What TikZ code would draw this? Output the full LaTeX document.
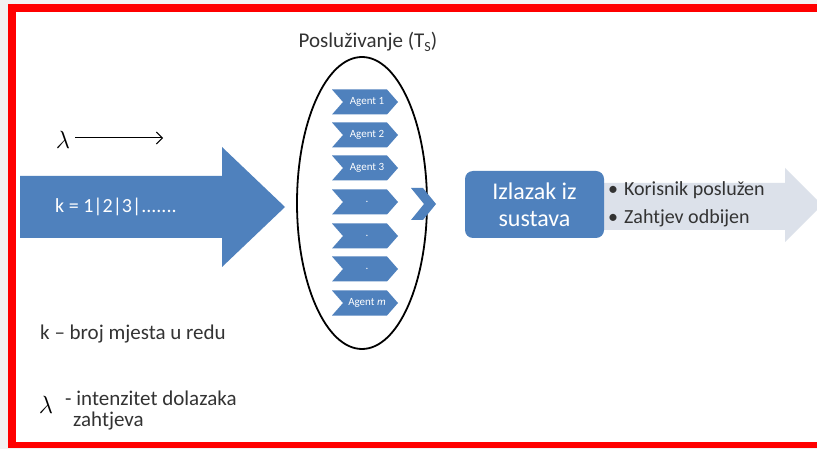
\documentclass[tikz,border=0pt]{standalone}
\usepackage{fontspec}
\setmainfont{Carlito}
\usetikzlibrary{shapes.geometric,arrows.meta}
\definecolor{officeblue}{HTML}{4F81BD}
\definecolor{paleblue}{HTML}{DCE1EA}
\definecolor{textgray}{HTML}{333333}
\definecolor{framered}{HTML}{FF0000}
% chevron centred at (#1,#2): width #3, height #4, notch/point depth #5
\newcommand\agentchevron[5]{%
  \fill[officeblue] (#1-#3/2,#2+#4/2) -- (#1+#3/2-#5,#2+#4/2) -- (#1+#3/2,#2)
    -- (#1+#3/2-#5,#2-#4/2) -- (#1-#3/2,#2-#4/2) -- (#1-#3/2+#5,#2) -- cycle;}
\tikzset{
  agentlabel/.style={text=white,font=\fontsize{11}{12}\selectfont,inner sep=0pt},
  bodytext/.style={text=textgray,font=\fontsize{21}{24}\selectfont,inner sep=0pt,anchor=west},
  lambdasym/.style={font=\fontsize{28}{29}\selectfont,inner sep=0pt},
}
\begin{document}
\begin{tikzpicture}[x=1pt,y=-1pt]
\useasboundingbox (0,0) rectangle (817,449);
% page backdrop and frame
\fill[gray!10] (0,0) rectangle (817,449);
\fill[white] (12,8) rectangle (830,445);
\draw[framered,line width=8pt] (12,8) -- (830,8);
\draw[framered,line width=8pt] (12,4) -- (12,445);
\draw[framered,line width=6pt] (8,445) -- (830,445);

% arrival rate
\node[lambdasym] (lam) at (63,140) {$\lambda$};
\coordinate (lamend) at (163,138);
\draw[line width=1pt,-{Straight Barb[length=6pt,width=12pt]}] (lam.east) ++(5,-2) coordinate (lamstart) -- (lamend);

% queue arrow
\fill[officeblue] (20,176) -- (222,176) -- (222,147) -- (285,207) -- (222,267) -- (222,238) -- (20,238) -- cycle;
\node[text=white,font=\fontsize{20}{24}\selectfont,inner sep=0pt,anchor=west] (queue) at (55,207) {k = 1|2|3|.......};

% service area
\node[font=\fontsize{21}{24}\selectfont,inner sep=0pt,text=textgray] (servtitle) at (368,42)
  {Posluživanje (T\raisebox{-0.35ex}{\fontsize{14}{15}\selectfont S})};
\node[ellipse,draw=black,line width=1.8pt,minimum width=130pt,minimum height=292pt,inner sep=0pt] (serv) at (362,203) {};

\foreach \y/\lbl/\nm in {102/Agent 1/a1,135/Agent 2/a2,168/Agent 3/a3,202/./a4,236/./a5,269/./a6,303/Agent \textit{m}/a7}{
  \agentchevron{365}{\y}{66}{25}{11}
  \node[agentlabel] (\nm) at (367,\y) {\lbl};
}

% hand-over chevron
\fill[officeblue] (411,188) -- (423,188) -- (436,204) -- (423,220) -- (411,220) -- (424,204) -- cycle;
\coordinate (handover) at (424,204);

% exit
\fill[paleblue] (590,183) -- (785,183) -- (785,168) -- (822,205) -- (785,242) -- (785,230) -- (590,230) -- cycle;
\node[fill=officeblue,rounded corners=8pt,minimum width=139pt,minimum height=67pt,inner sep=0pt,
      text=white,font=\fontsize{24}{27}\selectfont,align=center] (exit) at (534.5,204.5) {Izlazak iz\\sustava};
\node[text=textgray,inner sep=0pt,anchor=west,align=left,font=\fontsize{20}{28}\selectfont] (outcomes) at (608,204)
  {•\hspace{6pt}Korisnik poslužen\\•\hspace{6pt}Zahtjev odbijen};

% legend
\node[bodytext] (legk) at (40,334) {k – broj mjesta u redu};
\node[lambdasym] (leglam) at (46,405) {$\lambda$};
\node[bodytext] (leglam1) at (65,398) {- intenzitet dolazaka};
\node[bodytext] (leglam2) at (73,421) {zahtjeva};
\end{tikzpicture}
\end{document}
